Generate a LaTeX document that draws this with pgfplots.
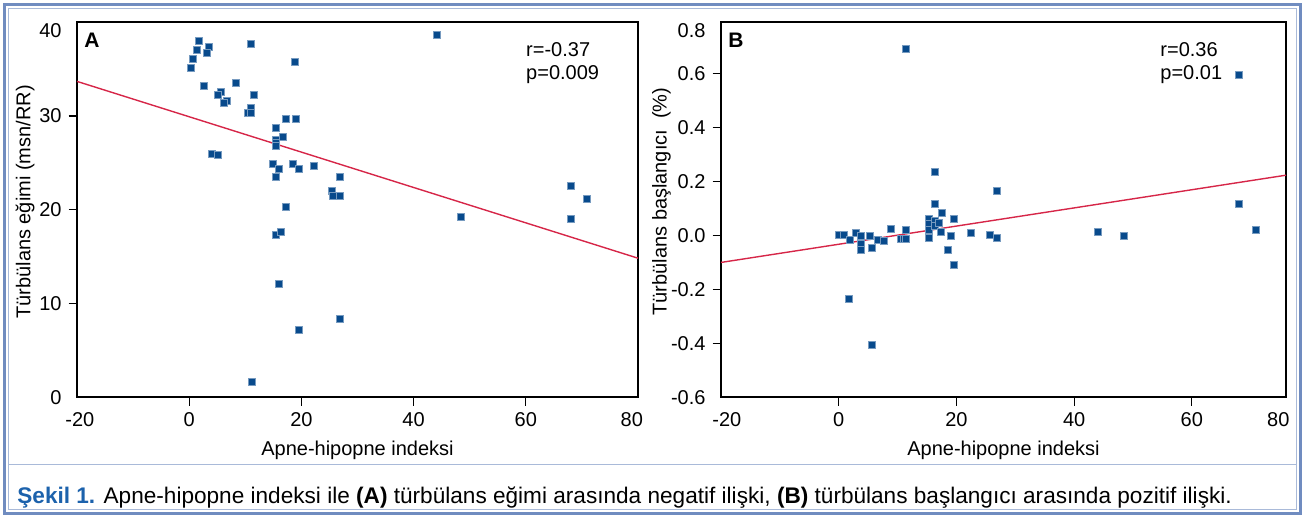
\documentclass[border=0pt]{standalone}
\usepackage{fontspec}
\setmainfont{Liberation Sans}
\usepackage{pgfplots}
\pgfplotsset{compat=1.18}

\definecolor{markblue}{RGB}{8,74,140}
\definecolor{fitred}{RGB}{214,38,72}
\definecolor{framebl}{RGB}{112,140,192}
\definecolor{capblue}{RGB}{28,98,172}

\pgfplotsset{
  panel/.style={
    scale only axis,
    height=187.6pt,
    axis line style={line width=1pt},
    tick align=outside,
    xtick pos=bottom, ytick pos=left,
    major tick length=4.2pt,
    every tick/.style={black, line width=0.6pt},
    ticklabel style={font=\fontsize{10}{12}\selectfont},
    label style={font=\fontsize{10}{12}\selectfont},
    extra x tick style={major tick style={draw=none}},
    extra y tick style={major tick style={draw=none}},
    every axis y label/.style={at={(rel axis cs:0,0.5)}, rotate=90, anchor=center},
    every axis x label/.style={at={(rel axis cs:0.5,0)}, anchor=north, yshift=-18pt},
    clip=false,
  },
  pts/.style={only marks, mark=square*, mark size=1.75pt,
    mark options={fill=markblue, draw=markblue!55!white, line width=0.3pt}},
  fit/.style={fitred, line width=0.7pt, no marks},
}

\begin{document}
\begin{tikzpicture}
\path[use as bounding box] (0,0) rectangle (652.5pt,259pt);
% frame
\draw[framebl, line width=1.2pt] (2.3pt,2.3pt) rectangle (650.2pt,256.7pt);
\draw[framebl!60!white, line width=0.5pt] (4.2pt,4.2pt) rectangle (648.3pt,254.8pt);
\draw[framebl!60!white, line width=0.5pt] (4.2pt,26.5pt) -- (648.3pt,26.5pt);

% panel A
\begin{axis}[panel,
  at={(38.5pt,60.25pt)}, anchor=south west,
  width=280.5pt,
  xmin=-20, xmax=80, ymin=0, ymax=40,
  xtick={0,20,40,60}, xticklabels={0,20,40,60},
  extra x ticks={-19.5,78.9}, extra x tick labels={-20,80},
  ytick={10,20,30}, yticklabels={10,20,30},
  extra y ticks={0,39.07}, extra y tick labels={0,40},
  xlabel={Apne-hipopne indeksi},
  ylabel={Türbülans eğimi (msn/RR)},
  ylabel style={xshift=4pt, yshift=26pt},
]
\addplot[fit] coordinates {(-20,33.7) (80,14.85)};
\addplot[pts] table {
x y
44.1 38.65
1.73 38.04
3.57 37.4
1.37 37.08
3.21 36.8
0.71 36.12
0.24 35.16
10.9 37.7
18.8 35.84
2.68 33.18
8.33 33.5
5.71 32.57
5.18 32.28
11.43 32.28
6.73 31.68
6.25 31.4
10.9 30.9
10.4 30.3
10.9 30.3
17.26 29.69
18.98 29.69
15.48 28.8
16.73 27.74
15.48 27.42
15.48 27.1
15.48 26.84
4.05 25.96
5.18 25.85
14.88 24.93
18.45 24.93
15.9 24.36
19.5 24.36
22.2 24.65
15.48 23.5
26.9 23.5
25.4 22.0
25.6 21.5
26.9 21.5
17.26 20.28
15.48 17.32
16.3 17.64
15.95 12.13
26.9 8.37
19.46 7.2
11.13 1.68
68.0 22.62
70.8 21.2
68.0 19.0
48.5 19.28
};
\node[anchor=north west, inner sep=0, font=\fontsize{10.5}{12}\selectfont\bfseries]
  at (rel axis cs:0.0125,0.9715) {A};
\node[anchor=north west, inner sep=0, align=left, font=\fontsize{10}{11.5}\selectfont]
  at (rel axis cs:0.800,0.9475) {r=-0.37\\p=0.009};
\end{axis}

% panel B
\begin{axis}[panel,
  at={(360.5pt,60.25pt)}, anchor=south west,
  width=282.5pt,
  xmin=-20, xmax=76, ymin=-0.6, ymax=0.789,
  xtick={0,20,40,60}, xticklabels={0,20,40,60},
  extra x ticks={-19.0,74.7}, extra x tick labels={-20,80},
  ytick={-0.4,-0.2,0,0.2,0.4,0.6}, yticklabels={-0.4,-0.2,0.0,0.2,0.4,0.6},
  extra y ticks={-0.6,0.759}, extra y tick labels={-0.6,0.8},
  xlabel={Apne-hipopne indeksi},
  ylabel={Türbülans başlangıcı\ \ (\%)},
  ylabel style={xshift=4.2pt, yshift=29.7pt},
]
\addplot[fit] coordinates {(-20,-0.1) (76,0.223)};
\addplot[pts] table {
x y
0.07 0.003
0.85 0.003
1.87 -0.017
2.84 0.011
3.74 -0.003
3.74 -0.032
3.74 -0.052
5.2 -0.003
5.67 -0.047
6.62 -0.017
7.59 -0.021
8.78 0.023
10.48 -0.011
11.04 -0.011
11.44 -0.014
11.44 0.021
15.28 0.062
15.28 0.043
15.28 0.019
15.28 -0.007
16.3 0.053
16.3 0.034
17.05 0.046
16.3 0.234
16.3 0.117
17.49 0.085
17.3 0.014
19.0 -0.003
19.47 0.062
18.5 -0.052
19.47 -0.11
22.4 0.011
25.6 0.003
26.9 -0.007
26.9 0.167
1.65 -0.233
5.67 -0.406
11.4 0.691
67.9 0.593
67.9 0.116
70.9 0.019
44.1 0.012
48.4 0.0
};
\node[anchor=north west, inner sep=0, font=\fontsize{10.5}{12}\selectfont\bfseries]
  at (rel axis cs:0.0125,0.9715) {B};
\node[anchor=north west, inner sep=0, align=left, font=\fontsize{10}{11.5}\selectfont]
  at (rel axis cs:0.777,0.9475) {r=0.36\\p=0.01};
\end{axis}

% caption
\node[anchor=base west, inner sep=0, font=\fontsize{11.3}{13}\selectfont]
  at (8.5pt,7pt) {\textbf{\color{capblue}Şekil 1.} Apne-hipopne indeksi ile \textbf{(A)} türbülans eğimi arasında negatif ilişki, \textbf{(B)} türbülans başlangıcı arasında pozitif ilişki.};
\end{tikzpicture}
\end{document}
